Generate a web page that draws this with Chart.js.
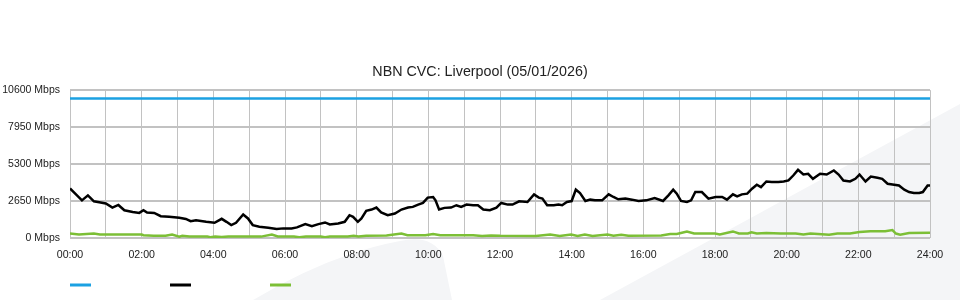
<!DOCTYPE html>
<html>
<head>
<meta charset="utf-8">
<script src="https://cdn.jsdelivr.net/npm/chart.js@4/dist/chart.umd.min.js"></script>
<style>
    html, body { margin: 0; padding: 0; background: #fff; }
    #wrap { position: relative; width: 960px; height: 300px; overflow: hidden; }
    #wrap svg, #wrap canvas { position: absolute; left: 0; top: 0; }
</style>
</head>
<body>
<div id="wrap">
    <svg width="960" height="300">
        <path d="M253,300 Q330,254 400,241 Q432,234 443,256 L452,300 Z" fill="#f4f5f7"/>
        <path d="M600,300 L960,104 L960,300 Z" fill="#f4f5f7"/>
    </svg>
    <canvas id="cvc-chart" width="960" height="300"></canvas>
</div>
<script>
var chartTitle = "NBN CVC: Liverpool (05/01/2026)";
var hourLabels = ["00:00", "02:00", "04:00", "06:00", "08:00", "10:00", "12:00",
    "14:00", "16:00", "18:00", "20:00", "22:00", "24:00"];
var yTicks = [0, 2650, 5300, 7950, 10600];

var capacityTimes = ["00:00", "24:00"];
var capacityMbps = [10000, 10000];

var downloadTimes = ["00:00", "00:10", "00:20", "00:30", "00:40", "00:49", "01:00", "01:11", "01:21", "01:31",
    "01:45", "01:56", "02:03", "02:09", "02:21", "02:32", "02:46", "03:03", "03:14", "03:22",
    "03:31", "03:48", "04:02", "04:14", "04:22", "04:30", "04:38", "04:50", "04:58", "05:06",
    "05:17", "05:32", "05:46", "05:57", "06:11", "06:20", "06:34", "06:45", "06:56", "07:07",
    "07:15", "07:29", "07:40", "07:48", "07:54", "08:02", "08:08", "08:16", "08:25", "08:33",
    "08:41", "08:52", "09:04", "09:15", "09:26", "09:34", "09:43", "09:51", "09:59", "10:08",
    "10:12", "10:18", "10:27", "10:38", "10:47", "10:55", "11:04", "11:15", "11:23", "11:32",
    "11:43", "11:54", "12:02", "12:13", "12:21", "12:32", "12:46", "12:57", "13:05", "13:11",
    "13:19", "13:30", "13:38", "13:44", "13:52", "14:00", "14:07", "14:14", "14:23", "14:31",
    "14:39", "14:51", "15:02", "15:10", "15:18", "15:30", "15:41", "15:52", "16:05", "16:19",
    "16:33", "16:42", "16:50", "16:56", "17:03", "17:13", "17:20", "17:27", "17:38", "17:49",
    "18:01", "18:12", "18:20", "18:30", "18:37", "18:45", "18:54", "19:02", "19:10", "19:17",
    "19:26", "19:35", "19:46", "19:55", "20:03", "20:11", "20:19", "20:28", "20:36", "20:44",
    "20:56", "21:07", "21:19", "21:27", "21:35", "21:46", "21:55", "22:02", "22:12", "22:21",
    "22:32", "22:40", "22:49", "23:00", "23:08", "23:17", "23:25", "23:33", "23:42", "23:48",
    "23:56", "24:00"];
var downloadMbps = [3550, 3130, 2700, 3060, 2630, 2560, 2470, 2180, 2370, 1990,
    1870, 1800, 1990, 1820, 1800, 1565, 1520, 1445, 1370, 1210,
    1280, 1160, 1090, 1375, 1160, 925, 1090, 1685, 1400, 925,
    805, 735, 640, 690, 690, 760, 995, 855, 995, 1115,
    970, 1045, 1160, 1635, 1520, 1160, 1400, 1945, 2040, 2180,
    1830, 1635, 1755, 2040, 2180, 2230, 2395, 2515, 2895, 2940,
    2700, 2040, 2160, 2180, 2350, 2230, 2395, 2350, 2350, 2040,
    1990, 2180, 2515, 2395, 2395, 2630, 2585, 3130, 2895, 2825,
    2350, 2350, 2395, 2350, 2585, 2650, 3465, 3225, 2655, 2750,
    2700, 2700, 3130, 2940, 2775, 2825, 2750, 2655, 2700, 2870,
    2655, 3060, 3465, 3180, 2655, 2585, 2700, 3295, 3295, 2825,
    2940, 2940, 2750, 3130, 2985, 3130, 3180, 3535, 3820, 3650,
    4055, 4010, 4010, 4055, 4125, 4480, 4885, 4550, 4600, 4245,
    4600, 4550, 4840, 4550, 4125, 4055, 4245, 4550, 4055, 4410,
    4315, 4245, 3890, 3820, 3770, 3465, 3295, 3225, 3225, 3295,
    3770, 3770];

var uploadTimes = ["00:00", "00:15", "00:40", "00:50", "02:00", "02:03", "02:20", "02:40", "02:51", "03:03",
    "03:08", "03:20", "03:50", "03:55", "04:03", "04:14", "04:25", "05:20", "05:38", "05:48",
    "06:15", "06:24", "06:35", "07:00", "07:07", "07:15", "07:45", "07:55", "08:03", "08:16",
    "08:50", "09:15", "09:25", "09:55", "10:08", "10:20", "11:15", "11:30", "11:45", "12:00",
    "13:00", "13:24", "13:40", "13:59", "14:10", "14:22", "14:35", "15:00", "15:10", "15:23",
    "15:35", "16:30", "16:45", "16:56", "17:13", "17:25", "18:00", "18:08", "18:30", "18:40",
    "18:55", "19:01", "19:10", "19:26", "19:50", "20:15", "20:28", "20:40", "21:11", "21:25",
    "21:46", "22:02", "22:20", "22:45", "22:57", "23:03", "23:10", "23:25", "24:00"];
var uploadMbps = [320, 250, 320, 250, 250, 200, 160, 160, 250, 100,
    160, 100, 100, 60, 100, 70, 110, 100, 250, 110,
    100, 60, 100, 100, 60, 100, 110, 160, 110, 160,
    180, 320, 200, 200, 290, 200, 200, 140, 180, 160,
    150, 250, 140, 250, 140, 250, 140, 250, 160, 240,
    160, 180, 290, 290, 470, 320, 320, 250, 470, 320,
    320, 410, 330, 360, 330, 320, 250, 320, 240, 320,
    320, 430, 480, 480, 570, 320, 240, 360, 380];

var toHours = function (hhmm) {
    var parts = hhmm.split(":");
    return parseInt(parts[0], 10) + parseInt(parts[1], 10) / 60;
};

var toPoints = function (times, values) {
    return times.map(function (t, i) {
        return { x: toHours(t), y: values[i] };
    });
};

// swatch-only legend under the axis, one short line per series
var swatchLegend = {
    id: "swatchLegend",
    afterDraw: function (chart) {
        var ctx = chart.ctx;
        var left = chart.chartArea.left;
        ctx.save();
        chart.data.datasets.forEach(function (ds, i) {
            ctx.strokeStyle = ds.borderColor;
            ctx.lineWidth = 3;
            ctx.beginPath();
            ctx.moveTo(left + i * 100, 285);
            ctx.lineTo(left + i * 100 + 21, 285);
            ctx.stroke();
        });
        ctx.restore();
    }
};

var gridColor = "#c2c2c2";
var textColor = "#222";
var fontFamily = "'Liberation Sans', Arial, sans-serif";

new Chart(document.getElementById("cvc-chart"), {
    type: "line",
    data: {
        datasets: [
            {
                label: "Capacity",
                data: toPoints(capacityTimes, capacityMbps),
                borderColor: "#1ba1e2",
                borderWidth: 2.5,
                pointRadius: 0
            },
            {
                label: "Download",
                data: toPoints(downloadTimes, downloadMbps),
                borderColor: "#000000",
                borderWidth: 2.5,
                pointRadius: 0
            },
            {
                label: "Upload",
                data: toPoints(uploadTimes, uploadMbps),
                borderColor: "#7cbf36",
                borderWidth: 2.5,
                pointRadius: 0
            }
        ]
    },
    options: {
        responsive: false,
        animation: false,
        layout: { padding: { left: 0, right: 0, top: 0, bottom: 37 } },
        plugins: {
            legend: { display: false },
            tooltip: { enabled: false },
            title: {
                display: true,
                text: chartTitle,
                color: textColor,
                font: { family: fontFamily, size: 14.3, weight: "normal" },
                padding: { top: 63, bottom: 10 }
            }
        },
        scales: {
            x: {
                type: "linear",
                min: 0,
                max: 24,
                border: { display: false },
                grid: { color: gridColor, lineWidth: 1, drawTicks: false },
                afterBuildTicks: function (scale) {
                    var ticks = [];
                    for (var h = 0; h <= 24; h++) ticks.push({ value: h });
                    scale.ticks = ticks;
                },
                afterFit: function (scale) { scale.height = 25; },
                ticks: {
                    autoSkip: false,
                    maxRotation: 0,
                    padding: 11,
                    color: textColor,
                    font: { family: fontFamily, size: 10.6 },
                    callback: function (value) {
                        return value % 2 === 0 ? hourLabels[value / 2] : "";
                    }
                }
            },
            y: {
                min: yTicks[0],
                max: yTicks[yTicks.length - 1],
                border: { display: false },
                grid: { color: gridColor, lineWidth: 2, drawTicks: false },
                afterBuildTicks: function (scale) {
                    scale.ticks = yTicks.map(function (v) { return { value: v }; });
                },
                afterFit: function (scale) { scale.width = 70; },
                ticks: {
                    padding: 10,
                    color: textColor,
                    font: { family: fontFamily, size: 10.5 },
                    callback: function (value) { return value + " Mbps"; }
                }
            },
            // empty right-hand strip so the plot stops at 24:00 while the title stays centred on the page
            yRight: {
                position: "right",
                min: 0,
                max: 10600,
                border: { display: false },
                grid: { display: false, drawTicks: false },
                ticks: { display: false },
                afterFit: function (scale) { scale.width = 30; }
            }
        }
    },
    plugins: [swatchLegend]
});
</script>
</body>
</html>
